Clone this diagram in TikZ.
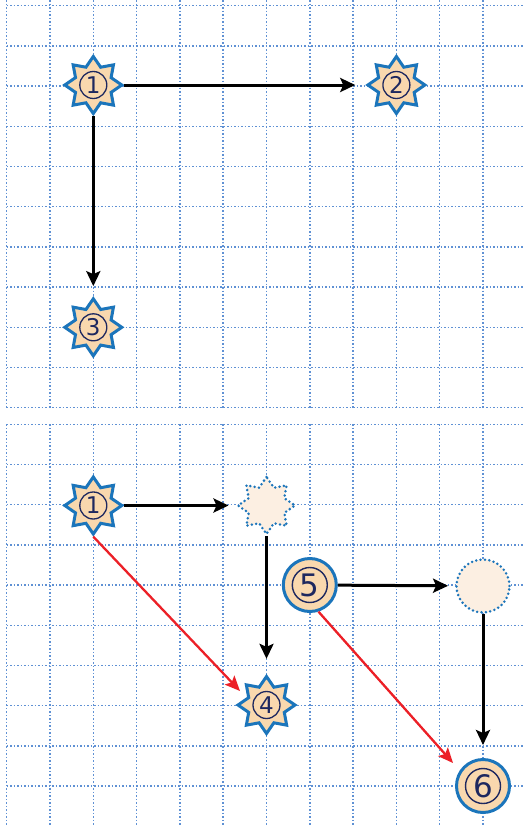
\documentclass[tikz,border=0pt]{standalone}
\usepackage{fontspec}
\newfontfamily\digitfont{DejaVu Sans}
\usetikzlibrary{shapes.geometric,arrows.meta,backgrounds}
\definecolor{gridblue}{RGB}{95,145,212}
\definecolor{starblue}{RGB}{27,117,187}
\definecolor{peach}{RGB}{249,216,174}
\definecolor{palepeach}{RGB}{252,239,226}
\definecolor{navy}{RGB}{30,40,95}
\definecolor{arrred}{RGB}{236,32,39}
\begin{document}
\begin{tikzpicture}[x=1pt,y=-1pt,
  gridline/.style={gridblue, line width=1.5pt, dash pattern=on 1.5pt off 2pt},
  starnode/.style={star, star points=8, star point ratio=1.48, minimum size=57pt, inner sep=0pt, fill=peach, draw=starblue, line width=3pt, line join=miter},
  dstar/.style={starnode, fill=palepeach, dash pattern=on 0pt off 4.4pt, line cap=round, line width=2.8pt},
  rnode/.style={circle, minimum size=53pt, inner sep=0pt, fill=peach, draw=starblue, line width=3pt},
  dcirc/.style={rnode, fill=palepeach, dash pattern=on 0pt off 4.4pt, line cap=round, line width=2.8pt},
  numsmall/.style={circle, draw=navy, line width=1.3pt, minimum size=27pt, inner sep=0pt, text=navy, font=\digitfont\fontsize{23}{23}\selectfont},
  numbig/.style={circle, draw=navy, line width=1.4pt, minimum size=35pt, inner sep=0pt, text=navy, font=\digitfont\fontsize{31}{31}\selectfont},
  arr/.style={black, line width=3pt, -{Stealth[length=15pt,width=14pt,inset=3pt]}},
  redarr/.style={arrred, line width=2.3pt, -{Stealth[length=15pt,width=13pt,inset=3pt]}}
]
\useasboundingbox (0,0) rectangle (523,825);
\fill[white] (0,0) rectangle (523,825);
% top grid
\foreach \i in {0,...,11} \draw[gridline] (6.7+43.3*\i,0) -- (6.7+43.3*\i,407.7);
\foreach \j in {0,...,10} \draw[gridline] (6.7,5.7+40.2*\j) -- (523,5.7+40.2*\j);
% bottom grid
\foreach \i in {0,...,11} \draw[gridline] (6.7+43.3*\i,424.3) -- (6.7+43.3*\i,825);
\foreach \j in {0,...,9} \draw[gridline] (6.7,424.3+40.2*\j) -- (523,424.3+40.2*\j);

% top nodes
\node[starnode] (s1) at (93.3,85) {};
\node[numsmall] (n1) at (s1.center) {1};
\node[starnode] (s2) at (396.4,85) {};
\node[numsmall] (n2) at (s2.center) {2};
\node[starnode] (s3) at (93.3,327.3) {};
\node[numsmall] (n3) at (s3.center) {3};

% bottom nodes
\node[starnode] (b1) at (93.3,505.5) {};
\node[numsmall] (m1) at (b1.center) {1};
\node[dstar] (d1) at (266.5,505.5) {};
\node[starnode] (b4) at (266.5,705) {};
\node[numsmall] (m4) at (b4.center) {4};
\node[rnode] (c5) at (309.8,585) {};
\node[numbig] (m5) at (c5.center) {5};
\node[dcirc] (dc) at (483,586) {};
\node[rnode] (c6) at (483,786) {};
\node[numbig] (m6) at (c6.center) {6};

\coordinate (r1end) at (240,691);
\coordinate (r2end) at (453,763);

% connectors
\draw[arr, shorten >=10pt] (s1) -- (s2);
\draw[arr, shorten >=10pt] (s1) -- (s3);
\draw[arr, shorten >=7pt] (b1) -- (d1);
\draw[arr, shorten >=15pt] (d1) -- (b4);
\draw[arr, shorten >=7pt] (c5) -- (dc);
\draw[arr, shorten >=13pt] (dc) -- (c6);
\draw[redarr] (b1.south) -- (r1end);
\draw[redarr] (c5.-72) -- (r2end);
\end{tikzpicture}
\end{document}
